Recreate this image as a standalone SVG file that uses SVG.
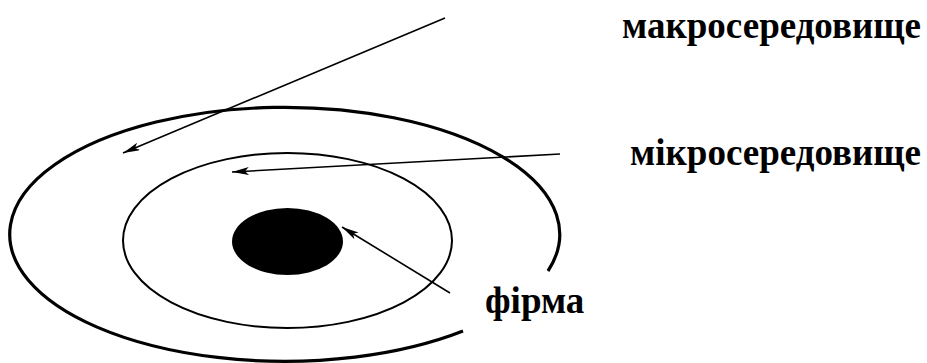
<svg xmlns="http://www.w3.org/2000/svg" width="927" height="363" viewBox="0 0 927 363">
<style>
.lbl{font-family:"Liberation Serif","Times New Roman",serif;font-weight:bold;font-size:37px;fill:#000}
.conn{stroke:#000;stroke-width:1.6;fill:none}
</style>
<defs>
<marker id="ah" markerUnits="userSpaceOnUse" markerWidth="18" markerHeight="10" refX="17" refY="4" orient="auto">
<path d="M0,0 L17,4 L0,8 L4,4 z" fill="#000"/>
</marker>
</defs>
<rect width="927" height="363" fill="#fff"/>
<g id="macro">
<path d="M548,271 A275,127 0 1 0 463,331" fill="none" stroke="#000" stroke-width="3.2"/>
</g>
<g id="micro">
<ellipse cx="287.5" cy="240.5" rx="164.5" ry="87.5" fill="none" stroke="#000" stroke-width="2"/>
</g>
<g id="firm">
<ellipse cx="287.5" cy="241.5" rx="55.5" ry="33.5" fill="#000"/>
</g>
<g id="connectors">
<line class="conn" x1="445" y1="18" x2="123" y2="153" marker-end="url(#ah)"/>
<line class="conn" x1="560" y1="154" x2="232" y2="172" marker-end="url(#ah)"/>
<line class="conn" x1="450" y1="293" x2="342" y2="227" marker-end="url(#ah)"/>
</g>
<g id="labels">
<text class="lbl" x="622" y="38">макросередовище</text>
<text class="lbl" x="630" y="165">мікросередовище</text>
<text class="lbl" x="485" y="313">фірма</text>
</g>
</svg>
